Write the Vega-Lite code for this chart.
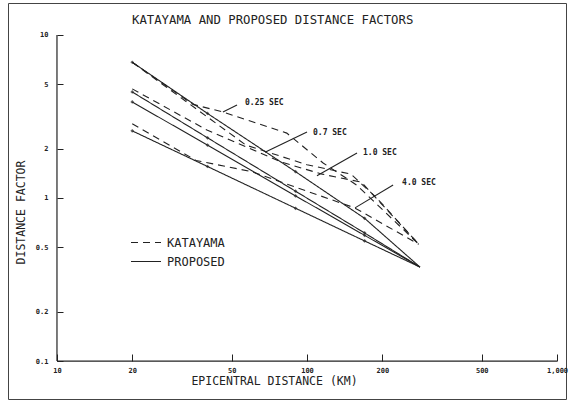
{
  "$schema": "https://vega.github.io/schema/vega-lite/v6.json",
  "width": 558,
  "height": 396,
  "autosize": {"type": "none"},
  "padding": {"left": 8, "top": 3, "right": 4, "bottom": 6},
  "background": "white",
  "title": {
    "text": "KATAYAMA AND PROPOSED DISTANCE FACTORS",
    "font": "DejaVu Sans Mono",
    "fontSize": 12.3,
    "fontWeight": "normal",
    "color": "#222",
    "anchor": "start",
    "frame": "group",
    "dx": 124,
    "offset": -23
  },
  "config": {
    "view": {"stroke": "#444", "strokeWidth": 1},
    "font": "DejaVu Sans Mono",
    "axis": {
      "domain": false,
      "tickColor": "#222",
      "labelColor": "#222",
      "titleColor": "#222",
      "grid": false,
      "labelFont": "DejaVu Sans Mono",
      "labelFontSize": 7,
      "labelFontWeight": "bold",
      "titleFont": "DejaVu Sans Mono",
      "titleFontSize": 11.5,
      "titleFontWeight": "normal"
    }
  },
  "datasets": {
    "curves": [
      {"dist": 20, "factor": 6.8, "series": "P0.25", "method": "PROPOSED"},
      {"dist": 40, "factor": 3.3, "series": "P0.25", "method": "PROPOSED"},
      {"dist": 90, "factor": 1.45, "series": "P0.25", "method": "PROPOSED"},
      {"dist": 170, "factor": 0.75, "series": "P0.25", "method": "PROPOSED"},
      {"dist": 283, "factor": 0.377, "series": "P0.25", "method": "PROPOSED"},
      {"dist": 20, "factor": 4.47, "series": "P0.7", "method": "PROPOSED"},
      {"dist": 40, "factor": 2.34, "series": "P0.7", "method": "PROPOSED"},
      {"dist": 90, "factor": 1.1, "series": "P0.7", "method": "PROPOSED"},
      {"dist": 170, "factor": 0.61, "series": "P0.7", "method": "PROPOSED"},
      {"dist": 283, "factor": 0.377, "series": "P0.7", "method": "PROPOSED"},
      {"dist": 20, "factor": 3.88, "series": "P1.0", "method": "PROPOSED"},
      {"dist": 40, "factor": 2.11, "series": "P1.0", "method": "PROPOSED"},
      {"dist": 90, "factor": 1.03, "series": "P1.0", "method": "PROPOSED"},
      {"dist": 170, "factor": 0.59, "series": "P1.0", "method": "PROPOSED"},
      {"dist": 283, "factor": 0.377, "series": "P1.0", "method": "PROPOSED"},
      {"dist": 20, "factor": 2.58, "series": "P4.0", "method": "PROPOSED"},
      {"dist": 40, "factor": 1.56, "series": "P4.0", "method": "PROPOSED"},
      {"dist": 90, "factor": 0.865, "series": "P4.0", "method": "PROPOSED"},
      {"dist": 170, "factor": 0.545, "series": "P4.0", "method": "PROPOSED"},
      {"dist": 283, "factor": 0.377, "series": "P4.0", "method": "PROPOSED"},
      {"dist": 20, "factor": 6.8, "series": "K0.25", "method": "KATAYAMA"},
      {"dist": 35, "factor": 3.75, "series": "K0.25", "method": "KATAYAMA"},
      {"dist": 46, "factor": 3.37, "series": "K0.25", "method": "KATAYAMA"},
      {"dist": 83, "factor": 2.5, "series": "K0.25", "method": "KATAYAMA"},
      {"dist": 116, "factor": 1.64, "series": "K0.25", "method": "KATAYAMA"},
      {"dist": 158, "factor": 1.2, "series": "K0.25", "method": "KATAYAMA"},
      {"dist": 280, "factor": 0.52, "series": "K0.25", "method": "KATAYAMA"},
      {"dist": 20, "factor": 6.8, "series": "K0.7", "method": "KATAYAMA"},
      {"dist": 57, "factor": 2.11, "series": "K0.7", "method": "KATAYAMA"},
      {"dist": 100, "factor": 1.6, "series": "K0.7", "method": "KATAYAMA"},
      {"dist": 150, "factor": 1.4, "series": "K0.7", "method": "KATAYAMA"},
      {"dist": 190, "factor": 1.0, "series": "K0.7", "method": "KATAYAMA"},
      {"dist": 280, "factor": 0.52, "series": "K0.7", "method": "KATAYAMA"},
      {"dist": 20, "factor": 4.67, "series": "K1.0", "method": "KATAYAMA"},
      {"dist": 40, "factor": 2.6, "series": "K1.0", "method": "KATAYAMA"},
      {"dist": 80, "factor": 1.65, "series": "K1.0", "method": "KATAYAMA"},
      {"dist": 115, "factor": 1.4, "series": "K1.0", "method": "KATAYAMA"},
      {"dist": 165, "factor": 1.25, "series": "K1.0", "method": "KATAYAMA"},
      {"dist": 280, "factor": 0.52, "series": "K1.0", "method": "KATAYAMA"},
      {"dist": 20, "factor": 2.85, "series": "K4.0", "method": "KATAYAMA"},
      {"dist": 36, "factor": 1.7, "series": "K4.0", "method": "KATAYAMA"},
      {"dist": 60, "factor": 1.45, "series": "K4.0", "method": "KATAYAMA"},
      {"dist": 155, "factor": 0.87, "series": "K4.0", "method": "KATAYAMA"},
      {"dist": 280, "factor": 0.52, "series": "K4.0", "method": "KATAYAMA"}
    ],
    "leaders": [
      {"period": "0.25 SEC", "x1": 52.5, "y1": 3.72, "x2": 46.1, "y2": 3.37, "lx": 56.5, "ly": 3.83},
      {"period": "0.7 SEC", "x1": 100, "y1": 2.54, "x2": 67.9, "y2": 1.91, "lx": 105.7, "ly": 2.5},
      {"period": "1.0 SEC", "x1": 158.5, "y1": 1.89, "x2": 109.6, "y2": 1.37, "lx": 167.5, "ly": 1.89},
      {"period": "4.0 SEC", "x1": 221, "y1": 1.2, "x2": 155.6, "y2": 0.87, "lx": 240, "ly": 1.24}
    ],
    "axislines": [
      {"xa": 10, "xb": 1000, "ya": 0.1, "yb": 0.1},
      {"xa": 10, "xb": 10, "ya": 0.1, "yb": 10}
    ]
  },
  "layer": [
    {
      "data": {"name": "curves"},
      "mark": {"type": "line", "strokeWidth": 1.1, "color": "#222"},
      "encoding": {
        "x": {
          "field": "dist",
          "type": "quantitative",
          "scale": {"type": "log", "domain": [6.37, 1086], "nice": false},
          "axis": {
            "title": "EPICENTRAL DISTANCE (KM)",
            "values": [10, 20, 50, 100, 200, 500, 1000],
            "format": ",d",
            "offset": -38,
            "tickSize": -7,
            "labelPadding": 12,
            "titleX": 266,
            "titleY": 14,
            "titleAnchor": "middle"
          }
        },
        "y": {
          "field": "factor",
          "type": "quantitative",
          "scale": {"type": "log", "domain": [0.0585, 15.7], "nice": false},
          "axis": {
            "title": "DISTANCE FACTOR",
            "values": [0.1, 0.2, 0.5, 1, 2, 5, 10],
            "format": "~g",
            "offset": -49,
            "tickSize": -6,
            "labelPadding": 15,
            "titleX": -31,
            "titleY": 209
          }
        },
        "detail": {"field": "series"},
        "strokeDash": {
          "field": "method",
          "type": "nominal",
          "scale": {"domain": ["KATAYAMA", "PROPOSED"], "range": [[7, 5], [1, 0]]},
          "legend": {
            "title": null,
            "orient": "none",
            "legendX": 122,
            "legendY": 230,
            "symbolType": "stroke",
            "symbolSize": 900,
            "symbolStrokeWidth": 1.1,
            "symbolStrokeColor": "#222",
            "labelFont": "DejaVu Sans Mono",
            "labelFontSize": 12,
            "labelColor": "#222",
            "labelOffset": 5,
            "clipHeight": 19,
            "rowPadding": 0
          }
        }
      }
    },
    {
      "data": {"name": "curves"},
      "transform": [{"filter": "datum.method === 'PROPOSED' && datum.dist < 280"}],
      "mark": {"type": "point", "shape": "diamond", "size": 14, "filled": true, "color": "#222"},
      "encoding": {
        "x": {"field": "dist", "type": "quantitative"},
        "y": {"field": "factor", "type": "quantitative"}
      }
    },
    {
      "data": {"name": "axislines"},
      "mark": {"type": "rule", "strokeWidth": 1.2, "color": "#222"},
      "encoding": {
        "x": {"field": "xa", "type": "quantitative"},
        "y": {"field": "ya", "type": "quantitative"},
        "x2": {"field": "xb"},
        "y2": {"field": "yb"}
      }
    },
    {
      "data": {"name": "leaders"},
      "mark": {"type": "rule", "strokeWidth": 1.1, "color": "#222"},
      "encoding": {
        "x": {"field": "x1", "type": "quantitative"},
        "y": {"field": "y1", "type": "quantitative"},
        "x2": {"field": "x2"},
        "y2": {"field": "y2"}
      }
    },
    {
      "data": {"name": "leaders"},
      "mark": {"type": "text", "align": "left", "baseline": "middle", "font": "DejaVu Sans Mono", "fontSize": 8, "fontWeight": "bold", "color": "#222"},
      "encoding": {
        "x": {"field": "lx", "type": "quantitative"},
        "y": {"field": "ly", "type": "quantitative"},
        "text": {"field": "period"}
      }
    }
  ]
}
